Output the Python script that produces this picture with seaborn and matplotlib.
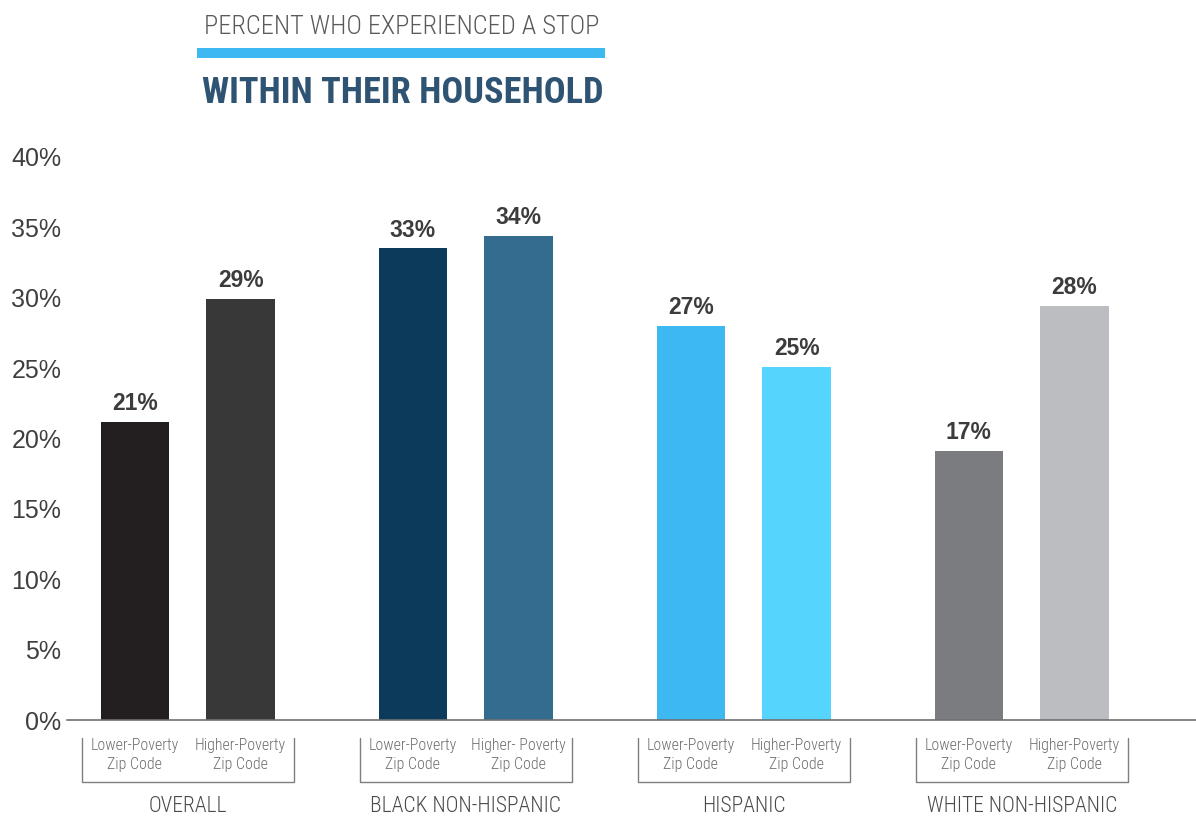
import numpy as np
import pandas as pd
import matplotlib
matplotlib.use("Agg")
import matplotlib.pyplot as plt
import seaborn as sns
from matplotlib import font_manager as fm
from matplotlib.patches import Rectangle
from matplotlib.lines import Line2D
import matplotlib.transforms as mtransforms

# ---------------- data ----------------
groups = ["OVERALL", "BLACK NON-HISPANIC", "HISPANIC", "WHITE NON-HISPANIC"]
zones = ["Lower-Poverty Zip Code", "Higher-Poverty Zip Code"]
lower_values = [21.2, 33.5, 28.0, 19.1]
higher_values = [29.9, 34.4, 25.1, 29.4]
lower_labels = ["21%", "33%", "27%", "17%"]
higher_labels = ["29%", "34%", "25%", "28%"]
lower_sub = ["Lower-Poverty\nZip Code"] * 4
higher_sub = ["Higher-Poverty\nZip Code", "Higher- Poverty\nZip Code",
              "Higher-Poverty\nZip Code", "Higher-Poverty\nZip Code"]
lower_colors = ["#231f20", "#0c3a5a", "#3db8f1", "#7a7c7f"]
higher_colors = ["#383838", "#336c8f", "#55d4fd", "#bcbdc1"]
yticks = [0, 5, 10, 15, 20, 25, 30, 35, 40]
ytick_labels = [f"{v}%" for v in yticks]
title1 = "PERCENT WHO EXPERIENCED A STOP"
title2 = "WITHIN THEIR HOUSEHOLD"

df = pd.DataFrame({
    "group": groups * 2,
    "zone": [zones[0]] * 4 + [zones[1]] * 4,
    "value": lower_values + higher_values,
})

# ---------------- fonts ----------------
sns.set_style("white")
names = {f.name for f in fm.fontManager.ttflist}
def pick(*cands):
    for c in cands:
        if c in names:
            return c
    return "DejaVu Sans"
SANS = pick("Liberation Sans", "Arial", "DejaVu Sans")
NARROW = pick("Roboto Condensed", "Liberation Sans Narrow", "Open Sans Condensed", "Roboto", "DejaVu Sans")
plt.rcParams["font.family"] = [SANS, "DejaVu Sans"]

W, H = 1196, 819
fig = plt.figure(figsize=(W / 100, H / 100), dpi=100)
ax = fig.add_axes([67 / W, 99 / H, 1 - 67 / W, 563 / H])

sns.barplot(data=df, x="group", y="value", hue="zone", order=groups,
            hue_order=zones, width=0.76, gap=0.35, ax=ax, legend=False,
            saturation=1, errorbar=None)

for cont, cols, labs in zip(ax.containers, [lower_colors, higher_colors],
                            [lower_labels, higher_labels]):
    for bar, c in zip(cont, cols):
        bar.set_facecolor(c)
        bar.set_edgecolor("none")
    ax.bar_label(cont, labels=labs, padding=5, fontsize=16.5, fontweight="bold",
                 color="#3c3c3c", family=[SANS])

ax.set_ylim(0, 40)
ax.set_xlim((67 - 187.75) / 278, (1196 - 187.75) / 278)
ax.set_yticks(yticks)
ax.set_yticklabels(ytick_labels, fontsize=18, color="#3f3f3f")
ax.tick_params(axis="y", length=0, pad=4)
ax.set_xticks([])
ax.set_xlabel("")
ax.set_ylabel("")
for s in ["top", "right", "left"]:
    ax.spines[s].set_visible(False)
ax.spines["bottom"].set_color("#707070")
ax.spines["bottom"].set_linewidth(1.2)

# ---------------- sub labels and brackets ----------------
trans = mtransforms.blended_transform_factory(ax.transData, ax.transAxes)
off = 0.19
half = 0.381
y_top, y_bot = -0.032, -0.110
sub_texts = []
for i in range(len(groups)):
    for dx, txt in [(-off, lower_sub[i]), (off, higher_sub[i])]:
        t = ax.text(i + dx, -0.0625, txt, transform=trans, ha="center", va="center",
                    fontsize=10.5, color="#6e6e6e", family=[NARROW, "DejaVu Sans"],
                    fontweight="light", linespacing=1.35, clip_on=False)
        sub_texts.append(t)
    ax.add_line(Line2D([i - half, i - half, i + half, i + half], [y_top, y_bot, y_bot, y_top],
                       transform=trans, color="#7f7f7f", lw=1.0, clip_on=False))
    ax.text(i, -0.153, groups[i], transform=trans, ha="center", va="center",
            fontsize=15.5, color="#4a4a4a", family=[NARROW, "DejaVu Sans"],
            fontweight="light", clip_on=False)

# ---------------- titles ----------------
t1 = fig.text(204 / W, 1 - 34 / H, title1, ha="left", va="baseline", fontsize=20,
              color="#5a5a5a", fontweight="light", family=[NARROW, "DejaVu Sans"])
t2 = fig.text(202 / W, 1 - 103 / H, title2, ha="left", va="baseline", fontsize=28,
              color="#2f5373", fontweight="bold", family=[NARROW, "DejaVu Sans"])
fig.add_artist(Rectangle((197 / W, 1 - 58 / H), 408 / W, 10 / H,
                         transform=fig.transFigure, color="#3db8f1", lw=0))

# fit widths of condensed texts to the reference
fig.canvas.draw()
r = fig.canvas.get_renderer()
def fit(t, target):
    w = t.get_window_extent(r).width
    t.set_fontsize(t.get_fontsize() * target / w)
fit(t1, 396)
fit(t2, 402)
probe = fig.text(0, 0, "Lower-Poverty", fontsize=10.5, fontweight="light",
                 family=[NARROW, "DejaVu Sans"])
pw = probe.get_window_extent(r).width
probe.remove()
sub_size = 10.5 * 88 / pw
for t in sub_texts:
    t.set_fontsize(sub_size)

fig.savefig("out.png", dpi=100)
